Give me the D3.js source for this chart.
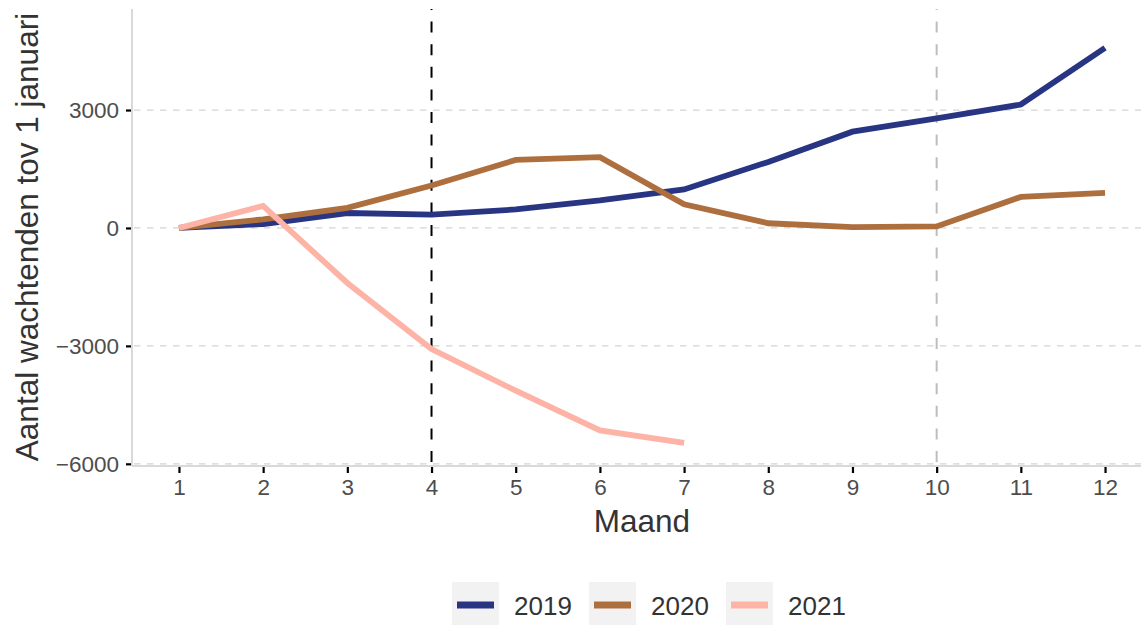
<!DOCTYPE html>
<html>
<head>
<meta charset="utf-8">
<script src="https://cdn.jsdelivr.net/npm/d3@7"></script>
<style>
  body { margin: 0; background: #fff; }
  text { font-family: "Liberation Sans", Arial, sans-serif; }
</style>
</head>
<body>
<div class="chart"></div>
<script>
// Data
var months = [1, 2, 3, 4, 5, 6, 7, 8, 9, 10, 11, 12];
var years = ["2019", "2020", "2021"];
var values2019 = [0, 100, 380, 340, 470, 700, 980, 1680, 2450, 2790, 3140, 4580];
var values2020 = [0, 220, 510, 1080, 1730, 1800, 600, 120, 20, 40, 790, 890];
var values2021 = [0, 560, -1400, -3080, -4140, -5150, -5470];
var yTicks = [-6000, -3000, 0, 3000];
var colors = ["#283583", "#ae6f3f", "#fdb3a6"];

var width = 1141, height = 625;
var margin = { top: 9, right: 1, bottom: 160, left: 132 };

var svg = d3.select(".chart").append("svg")
  .attr("width", width)
  .attr("height", height);

var x = d3.scaleLinear()
  .domain([1 - 47 / 84.27, 12 + 35 / 84.27])
  .range([margin.left, width - margin.right]);

var y = d3.scaleLinear()
  .domain([-6030, 5570])
  .range([height - margin.bottom, margin.top]);

var plotBottom = height - margin.bottom;

// horizontal grid
svg.append("g").selectAll("line").data(yTicks).enter().append("line")
  .attr("x1", margin.left).attr("x2", width)
  .attr("y1", function(d) { return y(d); }).attr("y2", function(d) { return y(d); })
  .attr("stroke", "#d4d4d4").attr("stroke-width", 1.2)
  .attr("stroke-dasharray", "6.5,6.5")
  .attr("stroke-dashoffset", 11);

// axis lines
svg.append("line")
  .attr("x1", margin.left).attr("x2", margin.left)
  .attr("y1", margin.top).attr("y2", plotBottom + 1)
  .attr("stroke", "#d9d9d9").attr("stroke-width", 2);
svg.append("line")
  .attr("x1", margin.left).attr("x2", width)
  .attr("y1", plotBottom + 1).attr("y2", plotBottom + 1)
  .attr("stroke", "#d9d9d9").attr("stroke-width", 2);

// reference lines
[[10, "#bdbdbd"], [4, "#000"]].forEach(function(r) {
  svg.append("line")
    .attr("x1", x(r[0])).attr("x2", x(r[0]))
    .attr("y1", margin.top).attr("y2", plotBottom)
    .attr("stroke", r[1]).attr("stroke-width", 2)
    .attr("stroke-dasharray", "11,11.6")
    .attr("stroke-dashoffset", 10);
});

// axes
var yAxis = svg.append("g")
  .attr("transform", "translate(" + (margin.left - 1) + ",0)")
  .call(d3.axisLeft(y).tickValues(yTicks).tickSize(5).tickPadding(7)
    .tickFormat(function(d) { return d < 0 ? "\u2212" + Math.abs(d) : d; }));
var xAxis = svg.append("g")
  .attr("transform", "translate(0," + (plotBottom + 2) + ")")
  .call(d3.axisBottom(x).tickValues(months).tickSize(6).tickPadding(6).tickFormat(d3.format("d")));

[yAxis, xAxis].forEach(function(a) {
  a.select(".domain").remove();
  a.selectAll(".tick line").attr("stroke", "#000").attr("stroke-width", 2.2);
  a.selectAll(".tick text").attr("fill", "#4d4d4d").style("font-size", "22.5px");
});

// series lines
var series = [values2019, values2020, values2021];
var line = d3.line()
  .x(function(d, i) { return x(months[i]); })
  .y(function(d) { return y(d); });

svg.append("g").selectAll("path").data(series).enter().append("path")
  .attr("d", line)
  .attr("fill", "none")
  .attr("stroke", function(d, i) { return colors[i]; })
  .attr("stroke-width", 5.8);

// axis titles
svg.append("text")
  .attr("x", x(6.5)).attr("y", 532)
  .attr("text-anchor", "middle")
  .attr("fill", "#333").style("font-size", "31.5px")
  .text("Maand");
svg.append("text")
  .attr("transform", "translate(38," + ((margin.top + plotBottom) / 2) + ") rotate(-90)")
  .attr("text-anchor", "middle")
  .attr("fill", "#333").style("font-size", "31.5px")
  .text("Aantal wachtenden tov 1 januari");

// legend
var legendX = [452, 589, 726];
var legend = svg.append("g").selectAll("g").data(years).enter().append("g")
  .attr("transform", function(d, i) { return "translate(" + legendX[i] + ",582)"; });
legend.append("rect")
  .attr("width", 47).attr("height", 43)
  .attr("fill", "#f2f2f2");
legend.append("line")
  .attr("x1", 5).attr("x2", 42).attr("y1", 23).attr("y2", 23)
  .attr("stroke", function(d, i) { return colors[i]; })
  .attr("stroke-width", 7);
legend.append("text")
  .attr("x", 62).attr("y", 33)
  .attr("fill", "#333").style("font-size", "26px")
  .text(function(d) { return d; });
</script>
</body>
</html>
